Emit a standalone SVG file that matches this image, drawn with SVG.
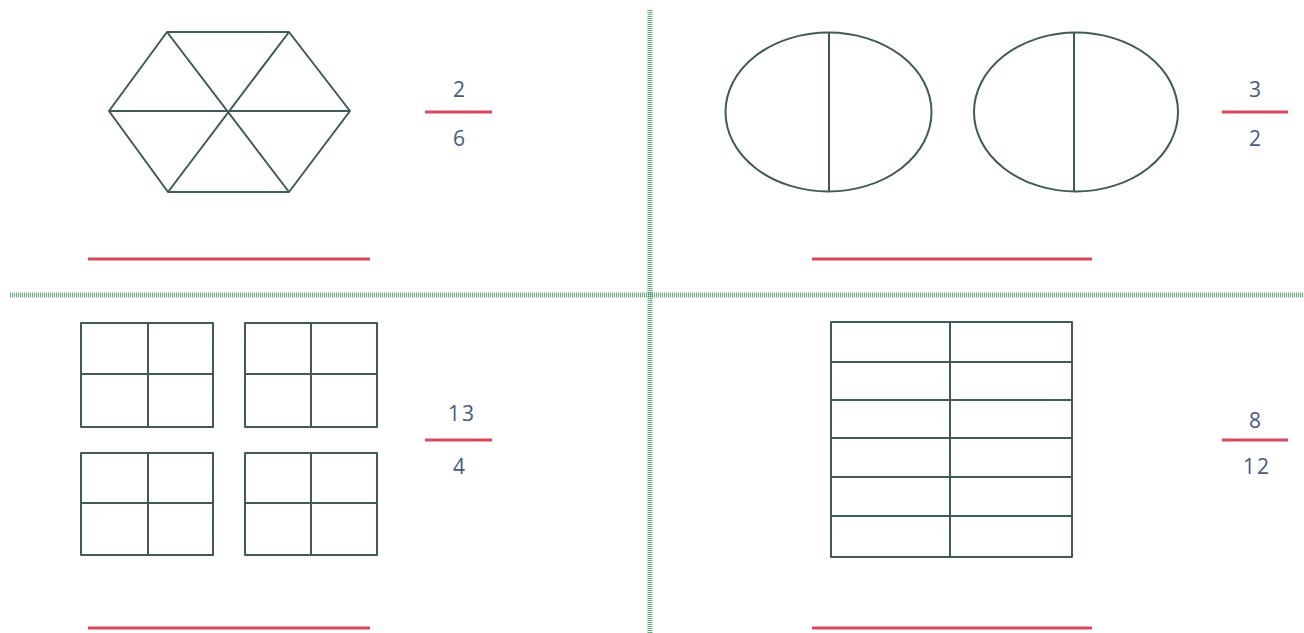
<svg xmlns="http://www.w3.org/2000/svg" width="1304" height="633" viewBox="0 0 1304 633">
<style>
.shape{fill:none;stroke:#3f5a58;stroke-width:2;stroke-linejoin:round}
.red{stroke:#d6485a;stroke-width:3}
.green{stroke:#3f9a55;stroke-width:5;stroke-dasharray:1 1;opacity:0.8}
.num{font-family:"Open Sans","Liberation Sans",sans-serif;font-size:21px;fill:#4a5a7c;text-anchor:middle;letter-spacing:2px}
</style>
<rect width="1304" height="633" fill="#ffffff"/>
<g id="dividers">
<line class="green" x1="650" y1="10" x2="650" y2="633"/>
<line class="green" x1="10" y1="295" x2="1304" y2="295"/>
</g>
<g id="hexagon">
<polygon class="shape" points="167,32 289,32 350,111 289,192 168,192 109,111"/>
<line class="shape" x1="167" y1="32" x2="289" y2="192"/>
<line class="shape" x1="289" y1="32" x2="168" y2="192"/>
<line class="shape" x1="109" y1="111" x2="350" y2="111"/>
</g>
<g id="frac-2-6">
<text class="num" x="460" y="97">2</text>
<line class="red" x1="425" y1="112" x2="492" y2="112"/>
<text class="num" x="460" y="146">6</text>
</g>
<g id="answer-1"><line class="red" x1="88" y1="259" x2="370" y2="259"/></g>
<g id="ellipses">
<ellipse class="shape" cx="828.5" cy="112" rx="103" ry="79.5"/>
<line class="shape" x1="829" y1="33" x2="829" y2="191"/>
<ellipse class="shape" cx="1076" cy="112" rx="102" ry="79.5"/>
<line class="shape" x1="1074" y1="33" x2="1074" y2="191"/>
</g>
<g id="frac-3-2">
<text class="num" x="1256" y="97">3</text>
<line class="red" x1="1222" y1="112" x2="1288" y2="112"/>
<text class="num" x="1256" y="146">2</text>
</g>
<g id="answer-2"><line class="red" x1="812" y1="259" x2="1092" y2="259"/></g>
<g id="squares">
<rect class="shape" x="81" y="323" width="132" height="104"/>
<line class="shape" x1="148" y1="323" x2="148" y2="427"/>
<line class="shape" x1="81" y1="374" x2="213" y2="374"/>
<rect class="shape" x="245" y="323" width="132" height="104"/>
<line class="shape" x1="311" y1="323" x2="311" y2="427"/>
<line class="shape" x1="245" y1="374" x2="377" y2="374"/>
<rect class="shape" x="81" y="453" width="132" height="102"/>
<line class="shape" x1="148" y1="453" x2="148" y2="555"/>
<line class="shape" x1="81" y1="503" x2="213" y2="503"/>
<rect class="shape" x="245" y="453" width="132" height="102"/>
<line class="shape" x1="311" y1="453" x2="311" y2="555"/>
<line class="shape" x1="245" y1="503" x2="377" y2="503"/>
</g>
<g id="frac-13-4">
<text class="num" x="462" y="421">13</text>
<line class="red" x1="425" y1="440" x2="492" y2="440"/>
<text class="num" x="460" y="474">4</text>
</g>
<g id="answer-3"><line class="red" x1="88" y1="628" x2="370" y2="628"/></g>
<g id="grid">
<rect class="shape" x="831" y="322" width="241" height="235"/>
<line class="shape" x1="950" y1="322" x2="950" y2="557"/>
<line class="shape" x1="831" y1="362" x2="1072" y2="362"/>
<line class="shape" x1="831" y1="400" x2="1072" y2="400"/>
<line class="shape" x1="831" y1="438" x2="1072" y2="438"/>
<line class="shape" x1="831" y1="477" x2="1072" y2="477"/>
<line class="shape" x1="831" y1="516" x2="1072" y2="516"/>
</g>
<g id="frac-8-12">
<text class="num" x="1256" y="428">8</text>
<line class="red" x1="1222" y1="440" x2="1288" y2="440"/>
<text class="num" x="1257" y="474">12</text>
</g>
<g id="answer-4"><line class="red" x1="812" y1="628" x2="1092" y2="628"/></g>
</svg>
